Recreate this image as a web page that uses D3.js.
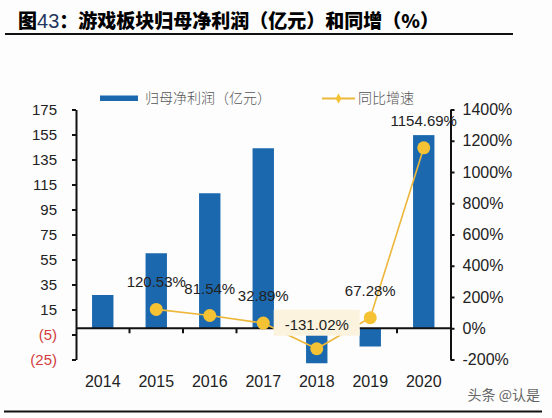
<!DOCTYPE html>
<html><head><meta charset="utf-8">
<script src="https://cdn.jsdelivr.net/npm/d3@7"></script>
<style>
html,body{margin:0;padding:0;background:#fdfdfd;}
svg{display:block;}
</style></head>
<body>
<svg id="chart" width="552" height="418"></svg>
<script>
const years = ["2014","2015","2016","2017","2018","2019","2020"];
const profit = [26.6, 60, 108, 144, -28, -14.6, 154.5];
const growth = [null, 120.53, 81.54, 32.89, -131.02, 67.28, 1154.69];
const growthLabels = ["", "120.53%", "81.54%", "32.89%", "-131.02%", "67.28%", "1154.69%"];
const leftTicks = [-25, -5, 15, 35, 55, 75, 95, 115, 135, 155, 175];
const rightTicks = [-200, 0, 200, 400, 600, 800, 1000, 1200, 1400];
const titleParts = ["图", "43", "：游戏板块归母净利润（亿元）和同增（%）"];
const legendNames = ["归母净利润（亿元）", "同比增速"];
const watermark = "头条 @认是";

(function () {
const svg = d3.select("#chart");
const pL = 76, pR = 450.5, pT = 109.5, pB = 359.5;
const x = d3.scaleBand().domain(years).range([pL, pR]).paddingInner(0.6).paddingOuter(0.3);
const xb = d3.scaleBand().domain(years).range([pL, pR]);
const y = d3.scaleLinear().domain([-25, 175]).range([pB, pT]);
const y2 = d3.scaleLinear().domain([-200, 1400]).range([pB, pT]);

const blue = "#1c68ae", gold = "#f5c233", goldLine = "#ecb73a";

// title
const t = svg.append("text").attr("x", 18).attr("y", 28)
  .style("font-family", "'Noto Sans CJK SC'").style("font-size", "19px").style("font-weight", 900).attr("fill", "#000");
t.append("tspan").text(titleParts[0]);
t.append("tspan").text(titleParts[1]).style("font-family", "Arial, 'Liberation Sans'").style("font-weight", 400).attr("fill", "#1f3560").style("font-size", "20px");
t.append("tspan").text(titleParts[2]);
svg.append("line").attr("x1", 5).attr("x2", 513).attr("y1", 34).attr("y2", 34).attr("stroke", "#111").attr("stroke-width", 2);
svg.append("line").attr("x1", 4).attr("x2", 542).attr("y1", 411.5).attr("y2", 411.5).attr("stroke", "#111").attr("stroke-width", 2);

// legend
svg.append("rect").attr("x", 100).attr("y", 95.5).attr("width", 38).attr("height", 5.5).attr("fill", blue);
svg.append("text").attr("x", 145).attr("y", 103).text(legendNames[0])
  .style("font-family", "'Noto Sans CJK SC'").style("font-size", "14px").style("font-weight", 300).attr("fill", "#555");
svg.append("line").attr("x1", 322).attr("x2", 355).attr("y1", 98.5).attr("y2", 98.5).attr("stroke", goldLine).attr("stroke-width", 2);
svg.append("path").attr("d", d3.symbol(d3.symbolDiamond, 28)()).attr("transform", "translate(338.5,98.5)").attr("fill", gold);
svg.append("text").attr("x", 358).attr("y", 103).text(legendNames[1])
  .style("font-family", "'Noto Sans CJK SC'").style("font-size", "14px").style("font-weight", 300).attr("fill", "#555");

// bars
svg.append("g").selectAll("rect").data(years).join("rect")
  .attr("x", d => x(d)).attr("width", x.bandwidth())
  .attr("y", (d, i) => y(Math.max(0, profit[i])))
  .attr("height", (d, i) => Math.abs(y(profit[i]) - y(0)))
  .attr("fill", blue);

// left axis
const la = svg.append("g").attr("transform", `translate(${pL},0)`)
  .call(d3.axisLeft(y).tickValues(leftTicks).tickSize(4).tickSizeOuter(0)
    .tickFormat(d => d < 0 ? `(${-d})` : d));
la.select(".domain").attr("stroke", "#111").attr("stroke-width", 2);
la.selectAll(".tick line").attr("stroke", "#111").attr("stroke-width", 2);
la.selectAll(".tick text").attr("x", -19)
  .style("font-family", "Arial, 'Liberation Sans'").style("font-size", "15px")
  .attr("fill", d => d < 0 ? "#d23c3c" : "#222");

// right axis
const ra = svg.append("g").attr("transform", `translate(${pR},0)`)
  .call(d3.axisRight(y2).tickValues(rightTicks).tickSize(4).tickSizeOuter(0).tickFormat(d => d + "%"));
ra.select(".domain").attr("stroke", "#111").attr("stroke-width", 2);
ra.selectAll(".tick line").attr("stroke", "#111").attr("stroke-width", 2);
ra.selectAll(".tick text").attr("x", 12)
  .style("font-family", "Arial, 'Liberation Sans'").style("font-size", "16px").attr("fill", "#222");

// category axis at zero
const ca = svg.append("g").attr("transform", `translate(0,${y(0)})`);
ca.append("line").attr("x1", pL).attr("x2", pR).attr("stroke", "#111").attr("stroke-width", 2);
ca.selectAll("line.tk").data(years.slice(1)).join("line").attr("class", "tk")
  .attr("x1", d => xb(d)).attr("x2", d => xb(d)).attr("y1", 0).attr("y2", 5)
  .attr("stroke", "#111").attr("stroke-width", 2);

// year labels
svg.append("g").selectAll("text").data(years).join("text")
  .attr("x", d => x(d) + x.bandwidth() / 2).attr("y", 387).attr("text-anchor", "middle")
  .style("font-family", "Arial, 'Liberation Sans'").style("font-size", "16px").attr("fill", "#222")
  .text(d => d);

// line
const pts = years.map((d, i) => ({ year: d, g: growth[i], label: growthLabels[i] })).filter(p => p.g !== null);
const line = d3.line().x(p => x(p.year) + x.bandwidth() / 2).y(p => y2(p.g));
svg.append("path").datum(pts).attr("d", line).attr("fill", "none").attr("stroke", goldLine).attr("stroke-width", 1.6);

// label box for negative
const neg = pts.filter(p => p.g < 0);
svg.append("g").selectAll("rect").data(neg).join("rect")
  .attr("x", p => x(p.year) + x.bandwidth() / 2 - 43).attr("y", p => y2(p.g) - 39)
  .attr("width", 86).attr("height", 26).attr("fill", "#fcf3df");

svg.append("g").selectAll("circle").data(pts).join("circle")
  .attr("cx", p => x(p.year) + x.bandwidth() / 2).attr("cy", p => y2(p.g)).attr("r", 6.5).attr("fill", gold);

svg.append("g").selectAll("text").data(pts).join("text")
  .attr("x", p => x(p.year) + x.bandwidth() / 2).attr("y", p => y2(p.g) - (p.g < 0 ? 19 : 22))
  .attr("text-anchor", "middle")
  .style("font-family", "Arial, 'Liberation Sans'").style("font-size", "15px").attr("fill", "#222")
  .text(p => p.label);

// watermark
svg.append("text").attr("x", 540).attr("y", 400).attr("text-anchor", "end").text(watermark)
  .style("font-family", "'Noto Sans CJK SC'").style("font-size", "14px").attr("fill", "#666");
})();
</script>
</body></html>
